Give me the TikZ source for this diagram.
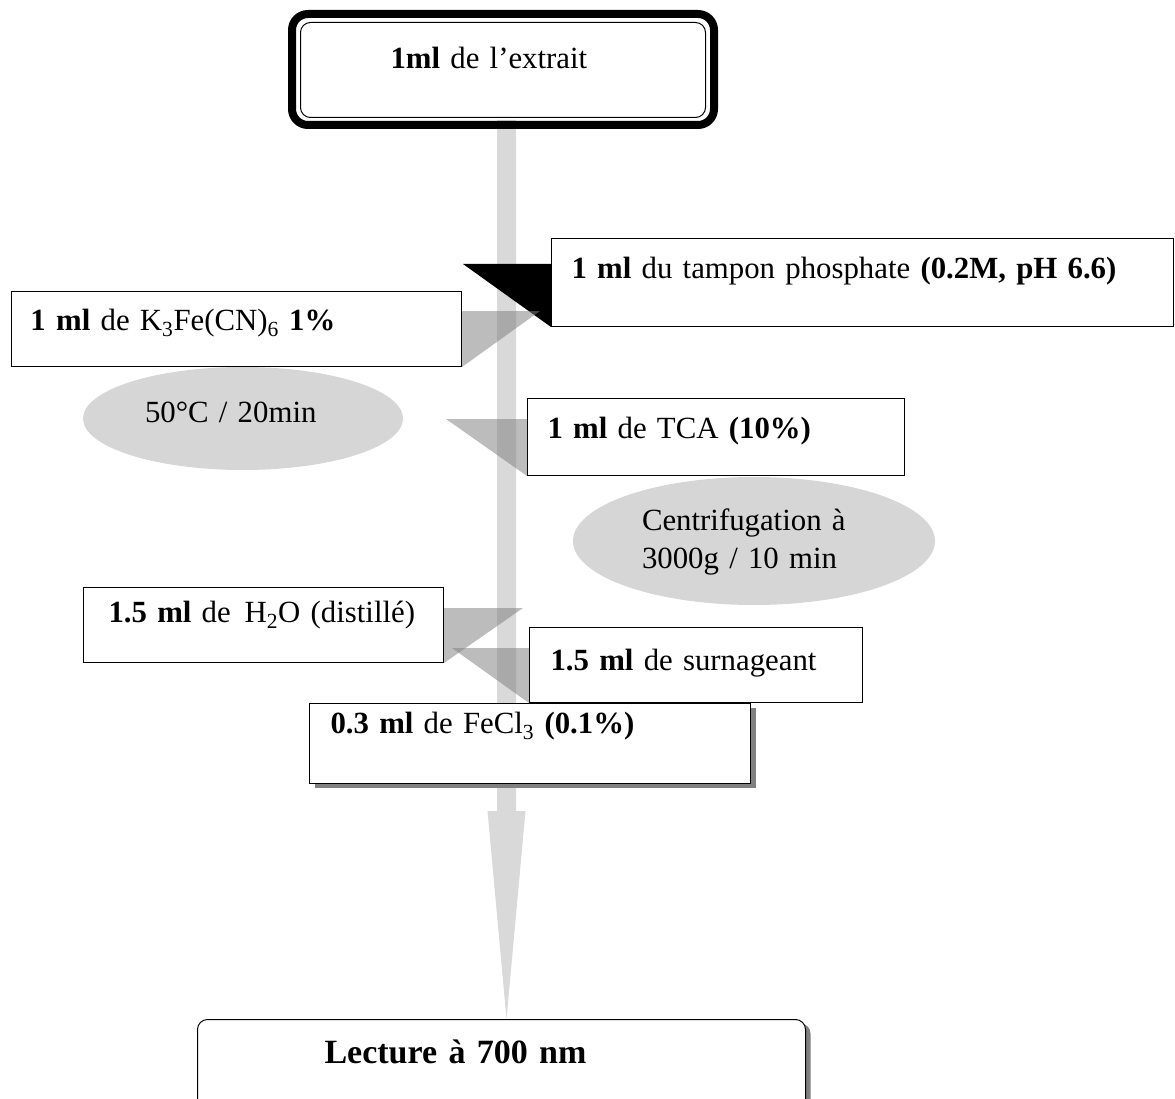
\documentclass[tikz,border=0pt]{standalone}
\usepackage{fontspec}
\setmainfont{Liberation Serif}
\usetikzlibrary{shapes.geometric,shadows}
\begin{document}
\begin{tikzpicture}[x=1pt,y=-1pt]
\definecolor{grisbarre}{RGB}{217,217,217}
\definecolor{grisincub}{RGB}{214,214,214}
\tikzstyle{etape}=[draw,line width=1pt,fill=white,anchor=north west,inner ysep=0pt,align=left,font=\fontsize{30.8}{38}\selectfont]
\tikzstyle{ombre}=[drop shadow={shadow xshift=5pt,shadow yshift=-4pt,fill=black!50,opacity=1}]
\tikzstyle{incub}=[ellipse,fill=grisincub,inner sep=0pt,align=left,font=\fontsize{30.8}{38}\selectfont]
\tikzstyle{cadre}=[line width=8pt,rounded corners=16pt]
\tikzstyle{barre}=[fill=grisbarre]
\tikzstyle{apport}=[fill=black!50,opacity=0.53]
\useasboundingbox (0,0) rectangle (1175,1099);
\clip (0,0) rectangle (1175,1099);
\coordinate (haut) at (506.5,120);
\coordinate (pointe) at (506.5,1019);
\fill[barre] (haut) ++(-9.5,0) -- ++(0,691) -- ++(-9.5,0) -- (pointe) -- ++(19,-208) -- ++(-9.5,0) -- ++(0,-691) -- cycle;
\node[etape,rounded corners=10pt,inner xsep=90pt,text width=225pt,text height=46pt,text depth=49pt] (extrait) at (300,22) {\textbf{1ml} de l’extrait};
\draw[cadre] ([shift={(-8,-8)}]extrait.north west) rectangle ([shift={(8,7)}]extrait.south east);
\node[etape,inner xsep=20pt,text width=582pt,text height=40pt,text depth=48pt] (tampon) at (551,238) {\textbf{1 ml} du tampon phosphate \textbf{(0.2M, pH 6.6)}};
\node[etape,inner xsep=19pt,text width=412pt,text height=39pt,text depth=36pt] (k3fe) at (11,291) {\textbf{1 ml} de K\textsubscript{3}Fe(CN)\textsubscript{6} \textbf{1\%}};
\node[etape,inner xsep=20pt,text width=337pt,text height=40pt,text depth=37pt] (tca) at (527,398) {\textbf{1 ml} de TCA \textbf{(10\%)}};
\node[etape,inner xsep=25pt,text width=310pt,text height=35pt,text depth=40pt] (eau) at (83,587) {\mbox{\textbf{1.5 ml} de\hspace{0.45em}H\textsubscript{2}O (distillé)}};
\node[etape,inner xsep=21pt,text width=291pt,text height=43pt,text depth=32pt] (surn) at (529,627) {\textbf{1.5 ml} de surnageant};
\node[etape,ombre,inner xsep=21pt,text width=399pt,text height=30pt,text depth=50pt] (fecl) at (309,703) {\textbf{0.3 ml} de FeCl\textsubscript{3} \textbf{(0.1\%)}};
\node[etape,ombre,rounded corners=10pt,inner xsep=127pt,text width=354pt,text height=44pt,text depth=62pt,font=\bfseries\fontsize{34}{42}\selectfont] (lecture) at (197,1019) {Lecture à 700 nm};
\node[incub,minimum width=320pt,minimum height=103pt,text width=196pt,text height=25pt,text depth=18pt] (chauffe) at (243,418.5) {50°C / 20min};
\node[incub,minimum width=362pt,minimum height=128pt,text width=224pt,text height=25pt,text depth=47pt] (centri) at (754,541) {Centrifugation à\\3000g / 10 min};
\fill[black] (tampon.south west) -- ++(0,-63) -- ++(-88,0) -- cycle;
\fill[apport] (k3fe.south east) -- ++(0,-56) -- ++(78,0) -- cycle;
\fill[apport] (tca.south west) -- ++(0,-57) -- ++(-81,0) -- cycle;
\fill[apport] (eau.south east) -- ++(0,-55) -- ++(79,0) -- cycle;
\fill[apport] (surn.south west) -- ++(0,-55) -- ++(-77,0) -- cycle;
\end{tikzpicture}
\end{document}
